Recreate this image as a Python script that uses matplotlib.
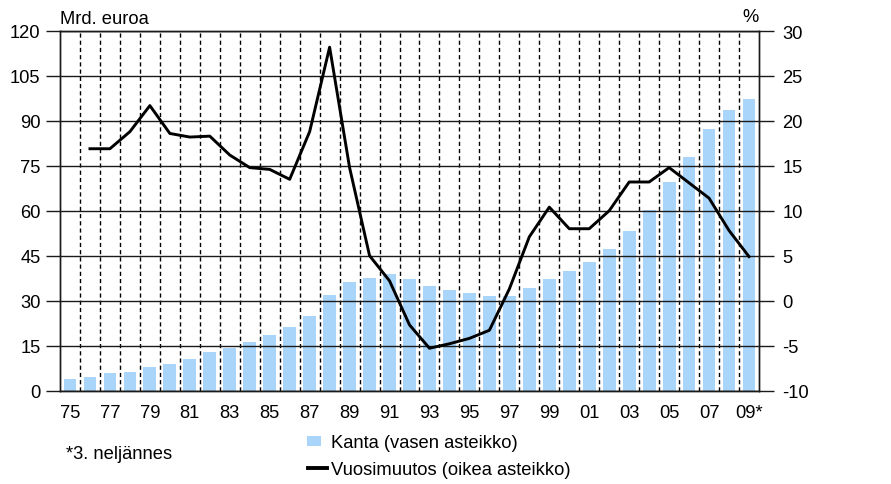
import numpy as np
import matplotlib
matplotlib.use("Agg")
import matplotlib.pyplot as plt
from matplotlib.patches import Rectangle
from matplotlib.lines import Line2D

plt.rcParams['font.family'] = ['Liberation Sans', 'DejaVu Sans']

years = ["75", "76", "77", "78", "79", "80", "81", "82", "83", "84", "85", "86",
         "87", "88", "89", "90", "91", "92", "93", "94", "95", "96", "97", "98",
         "99", "00", "01", "02", "03", "04", "05", "06", "07", "08", "09*"]

kanta = [4.0, 4.5, 5.7, 6.2, 7.7, 8.9, 10.4, 12.7, 14.1, 16.3, 18.6, 21.2,
         24.9, 31.8, 36.1, 37.7, 38.8, 37.2, 35.0, 33.4, 32.4, 31.4, 31.4, 34.1,
         37.2, 39.9, 43.0, 47.3, 53.1, 60.1, 69.7, 78.0, 87.2, 93.6, 97.4]

vuosimuutos = [np.nan, 16.9, 16.9, 18.8, 21.7, 18.6, 18.2, 18.3, 16.2, 14.8, 14.6, 13.5,
               18.8, 28.2, 14.8, 5.0, 2.2, -2.7, -5.3, -4.8, -4.2, -3.3, 1.3, 7.1,
               10.4, 8.0, 8.0, 10.0, 13.2, 13.2, 14.8, 13.1, 11.4, 7.8, 4.9]

left_ticks = [0, 15, 30, 45, 60, 75, 90, 105, 120]
right_ticks = [-10, -5, 0, 5, 10, 15, 20, 25, 30]

W, H = 891, 485
fig = plt.figure(figsize=(W / 100, H / 100), dpi=100)
fig.patch.set_facecolor('white')
ax = fig.add_axes([60 / W, 1 - 391.5 / H, (759 - 60) / W, (391.5 - 32) / H])

x = np.arange(len(years))
FS = 13.2
GRID = '#1a1a1a'
BAR = '#AAD5FA'

# vertical dashed grid lines at category boundaries
for b in np.arange(0.5, len(years) - 1, 1.0):
    ax.axvline(b, color='black', lw=1.0, dashes=(3.0, 2.2), zorder=1)

ax.bar(x, kanta, width=0.64, color=BAR, zorder=2)

for t in left_ticks:
    ax.axhline(t, color=GRID, lw=1.0, zorder=3)

ax.set_xlim(-0.5, len(years) - 0.5)
ax.set_ylim(0, 120)
ax.set_yticks(left_ticks)
ax.set_yticklabels([str(t) for t in left_ticks], fontsize=FS)
ax.tick_params(axis='y', length=10, width=1.0, color=GRID, pad=4, direction='out')
ax.set_xticks(x[::2])
ax.set_xticklabels(years[::2], fontsize=FS)
ax.tick_params(axis='x', length=0, pad=10)
for s in ['top', 'bottom', 'left', 'right']:
    ax.spines[s].set_color(GRID)
    ax.spines[s].set_linewidth(1.0)

ax2 = ax.twinx()
ax2.plot(x, vuosimuutos, color='black', lw=2.1, zorder=5, solid_joinstyle='round')
ax2.set_ylim(-10, 30)
ax2.set_yticks(right_ticks)
ax2.set_yticklabels([str(t) for t in right_ticks], fontsize=FS)
ax2.tick_params(axis='y', length=11, width=1.0, color=GRID, pad=6, direction='out')
for s in ['top', 'bottom', 'left', 'right']:
    ax2.spines[s].set_color(GRID)
    ax2.spines[s].set_linewidth(1.0)

fig.text(60 / W, 1 - 19 / H, "Mrd. euroa", fontsize=FS, ha='left', va='center')
fig.text(759 / W, 1 - 18 / H, "%", fontsize=FS, ha='right', va='center')

# legend
fig.add_artist(Rectangle((307 / W, 1 - 447 / H), 14 / W, 10 / H,
                         transform=fig.transFigure, facecolor=BAR, edgecolor='none'))
fig.text(331 / W, 1 - 444 / H, "Kanta (vasen asteikko)", fontsize=FS, ha='left', va='center')
fig.add_artist(Line2D([308 / W, 327 / W], [1 - 469 / H, 1 - 469 / H],
                      transform=fig.transFigure, color='black', lw=2.8))
fig.text(331 / W, 1 - 471 / H, "Vuosimuutos (oikea asteikko)", fontsize=FS, ha='left', va='center')
fig.text(66 / W, 1 - 455 / H, "*3. neljännes", fontsize=FS, ha='left', va='center')

fig.savefig("out.png", dpi=100, facecolor='white')
